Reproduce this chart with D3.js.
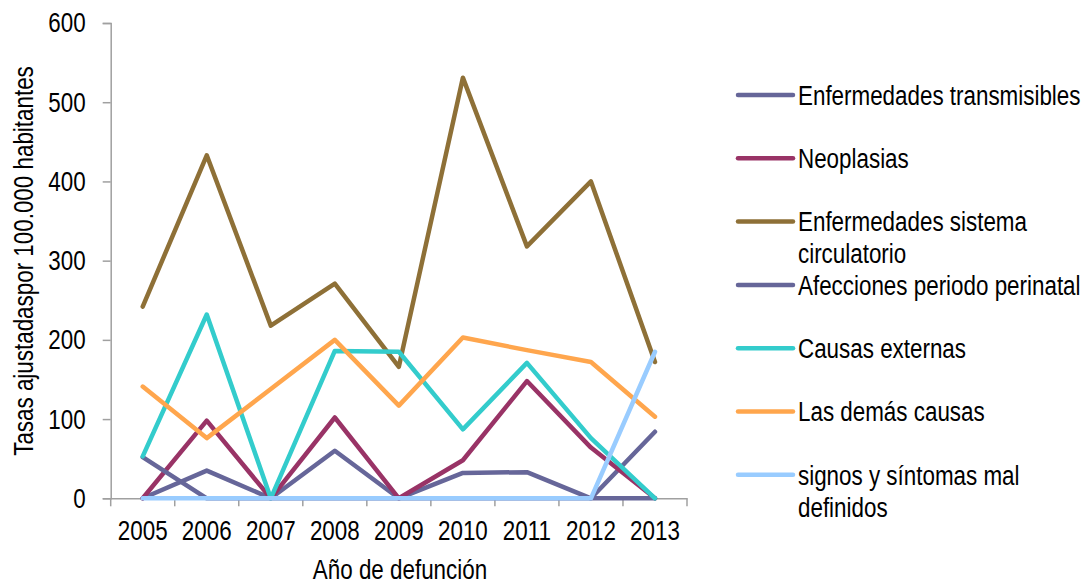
<!DOCTYPE html>
<html>
<head>
<meta charset="utf-8">
<script src="https://cdn.jsdelivr.net/npm/d3@7"></script>
<style>
  html, body { margin: 0; padding: 0; background: #fff; }
  svg text { font-family: "Liberation Sans", Arial, sans-serif; fill: #000; }
</style>
</head>
<body>
<svg id="chart" width="1092" height="584"></svg>
<script>
// Years of death
const years = ["2005", "2006", "2007", "2008", "2009", "2010", "2011", "2012", "2013"];

// Adjusted rates per 100,000 inhabitants, by cause group
const transmisibles = [0, 35, 0, 60, 0, 32, 33, 0, 84];
const neoplasias = [0, 98, 0, 102, 0, 48, 148, 64, 0];
const circulatorio = [242, 433, 218, 271, 166, 531, 318, 400, 172];
const perinatal = [52, 0, 0, 0, 0, 0, 0, 0, 0];
const externas = [53, 232, 0, 186, 185, 87, 171, 76, 0];
const demasCausas = [141, 76, 138, 200, 117, 203, 187, 172, 103];
const signos = [0, 0, 0, 0, 0, 0, 0, 0, 185];

const yTicks = [0, 100, 200, 300, 400, 500, 600];

const seriesNames = [
  "Enfermedades transmisibles",
  "Neoplasias",
  "Enfermedades sistema circulatorio",
  "Afecciones periodo perinatal",
  "Causas externas",
  "Las demás causas",
  "signos y síntomas mal definidos"
];
const seriesValues = [transmisibles, neoplasias, circulatorio, perinatal, externas, demasCausas, signos];
const seriesColors = ["#666699", "#993366", "#8E7037", "#666699", "#33CCCC", "#FFA64D", "#99CCFF"];

// Legend labels, wrapped onto two lines where they are long
const legendLines = [
  ["Enfermedades transmisibles"],
  ["Neoplasias"],
  ["Enfermedades sistema", "circulatorio"],
  ["Afecciones periodo perinatal"],
  ["Causas externas"],
  ["Las demás causas"],
  ["signos y síntomas mal", "definidos"]
];

const series = seriesNames.map((name, i) => ({
  name, color: seriesColors[i], lines: legendLines[i],
  values: seriesValues[i].map((v, j) => ({ year: years[j], value: v }))
}));

const svg = d3.select("#chart");
const plot = { left: 110.7, right: 687, top: 23, bottom: 498.3 };
const axisColor = "#A0A0A0";
const fontSize = 28;
const squeeze = 0.8;   // horizontal compression giving a narrow typeface look

// Compress text horizontally while keeping its anchor point in place
function narrow(sel) {
  sel.each(function () {
    const t = d3.select(this);
    const xv = +(t.attr("x") || 0);
    t.attr("x", xv / squeeze);
    const tr = t.attr("transform") || "";
    t.attr("transform", (tr + ` scale(${squeeze},1)`).trim());
  });
}

const x = d3.scaleBand().domain(years).range([plot.left, plot.right]).padding(0);
const y = d3.scaleLinear().domain([0, 600]).range([plot.bottom, plot.top]);

// Y axis
const yAxis = svg.append("g")
  .attr("transform", `translate(${plot.left},0)`)
  .call(d3.axisLeft(y).tickValues(yTicks).tickSize(8).tickPadding(17).tickFormat(d3.format("d")));
yAxis.select(".domain").attr("stroke", axisColor).attr("stroke-width", 1.5);
yAxis.selectAll(".tick line").attr("stroke", axisColor).attr("stroke-width", 1.5);
yAxis.selectAll(".tick text").attr("font-size", fontSize).attr("fill", "#000")
  .attr("font-family", null).call(narrow);

// X axis: ticks sit on the category boundaries
const xAxis = svg.append("g")
  .attr("transform", `translate(0,${plot.bottom})`)
  .call(d3.axisBottom(x).tickSize(0).tickPadding(22));
xAxis.select(".domain").attr("stroke", axisColor).attr("stroke-width", 1.5);
xAxis.selectAll(".tick text").attr("font-size", fontSize).attr("fill", "#000")
  .attr("font-family", null).call(narrow);
const boundaries = years.map(d => x(d)).concat([x(years[years.length - 1]) + x.bandwidth()]);
xAxis.selectAll(".boundary")
  .data(boundaries)
  .enter().append("line")
  .attr("class", "boundary")
  .attr("x1", d => d).attr("x2", d => d)
  .attr("y1", 0).attr("y2", 8)
  .attr("stroke", axisColor).attr("stroke-width", 1.5);

// Axis titles
svg.append("text")
  .attr("x", 400)
  .attr("y", 579)
  .attr("text-anchor", "middle")
  .attr("font-size", fontSize)
  .text("Año de defunción")
  .call(narrow);

svg.append("text")
  .attr("transform", `translate(33,261) rotate(-90)`)
  .attr("text-anchor", "middle")
  .attr("font-size", fontSize)
  .text("Tasas ajustadaspor 100.000 habitantes")
  .call(narrow);

// Series lines
const line = d3.line()
  .x(d => x(d.year) + x.bandwidth() / 2)
  .y(d => y(d.value));

svg.append("g").selectAll("path")
  .data(series)
  .enter().append("path")
  .attr("d", d => line(d.values))
  .attr("fill", "none")
  .attr("stroke", d => d.color)
  .attr("stroke-width", 4.5)
  .attr("stroke-linejoin", "round")
  .attr("stroke-linecap", "round");

// Legend
const legend = svg.append("g");
const legendTop = 95, legendStep = 63.3;
series.forEach((s, i) => {
  const cy = legendTop + i * legendStep;
  legend.append("line")
    .attr("x1", 738).attr("x2", 793)
    .attr("y1", cy).attr("y2", cy)
    .attr("stroke", s.color).attr("stroke-width", 4.5)
    .attr("stroke-linecap", "round");
  s.lines.forEach((t, k) => {
    legend.append("text")
      .attr("x", 798)
      .attr("y", cy + k * 32)
      .attr("dy", "0.35em")
      .attr("font-size", fontSize)
      .text(t)
      .call(narrow);
  });
});
</script>
</body>
</html>
